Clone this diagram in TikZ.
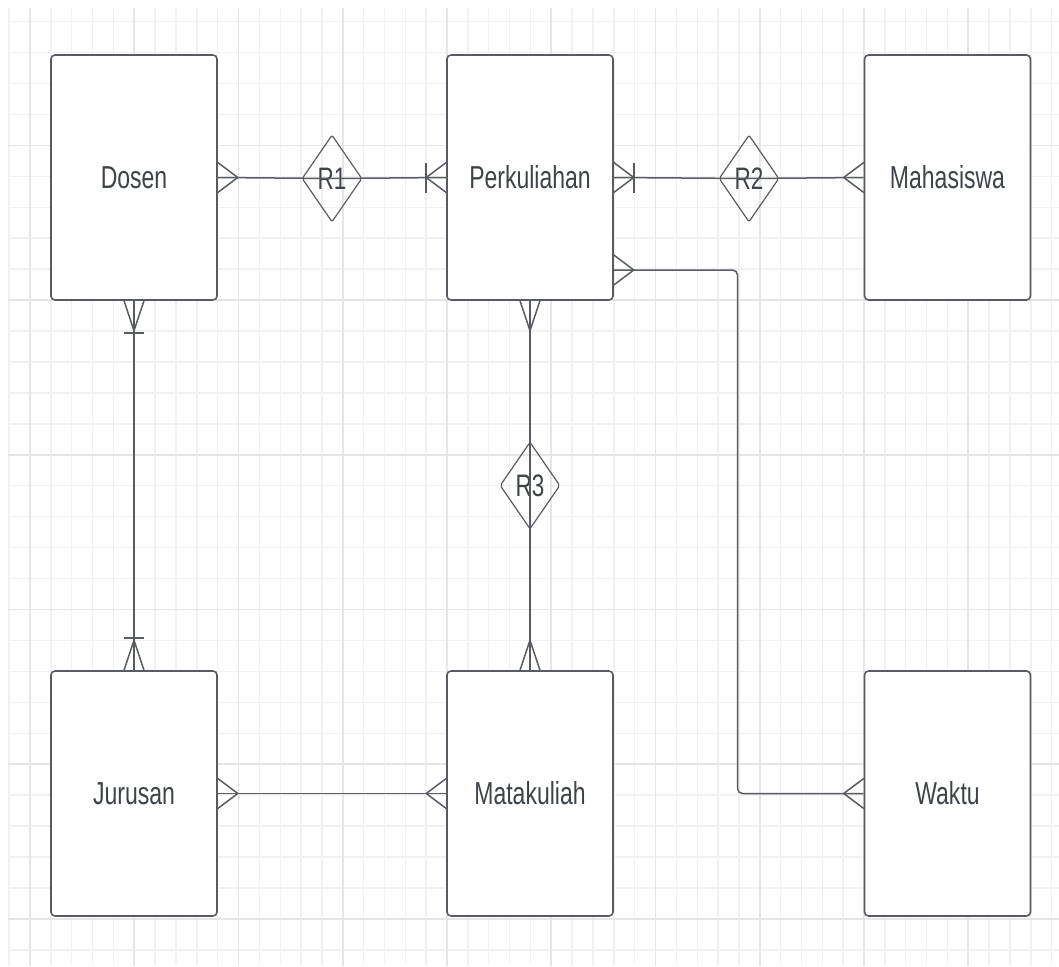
\documentclass[tikz,border=0pt]{standalone}
\usepackage{fontspec}
\setmainfont{Liberation Sans}
\usepackage{graphicx}
\usepackage{tikz}
\usetikzlibrary{shapes.geometric, calc}

\definecolor{cGaris}{RGB}{88,92,98}
\definecolor{cTeks}{RGB}{62,67,74}
\definecolor{cKisi}{RGB}{241,241,241}
\definecolor{cKisiMayor}{RGB}{229,229,229}

% teks yang agak memanjang ke atas
\newcommand{\tinggi}[1]{\scalebox{1}[1.38]{#1}}
% kaki gagak: titik, arah, lebar
\newcommand{\kaki}[3]{\draw[garisrel] ($(#1)+(#3)$) -- ($(#1)+(#2)$) -- ($(#1)-(#3)$);}
% palang tunggal
\newcommand{\palang}[3]{\draw[garisrel] ($(#1)+(#2)+(#3)$) -- ($(#1)+(#2)-(#3)$);}

\begin{document}
\begin{tikzpicture}[x=1pt, y=-1pt,
    entitas/.style={rectangle, draw=cGaris, fill=white, line width=1.6pt, rounded corners=4pt,
        minimum width=166pt, minimum height=245pt, text=cTeks, font=\fontsize{23}{27}\selectfont},
    relasi/.style={diamond, draw=cGaris, line width=1.2pt, rounded corners=2pt, aspect=0.69,
        minimum width=60pt, minimum height=87pt, inner sep=0pt, text=cTeks, font=\fontsize{22.5}{27}\selectfont},
    garisrel/.style={draw=cGaris, line width=1.5pt},
    kisi/.style={draw=cKisi, line width=1.4pt},
    kisimayor/.style={draw=cKisiMayor, line width=1.6pt}]

    \useasboundingbox[fill=white] (0,0) rectangle (1059,966);

    % Kisi latar
    \foreach \i in {0,...,50} \draw[kisi] ({9.15+20.85*\i},8) -- ({9.15+20.85*\i},966);
    \foreach \j in {0,...,30} \draw[kisi] (8,{21.6+30.94*\j}) -- (1059,{21.6+30.94*\j});
    \foreach \i in {1,6,...,46} \draw[kisimayor] ({9.15+20.85*\i},8) -- ({9.15+20.85*\i},966);
    \foreach \j in {4,9,...,29} \draw[kisimayor] (8,{21.6+30.94*\j}) -- (1059,{21.6+30.94*\j});

    % Entitas
    \node[entitas] (dosen) at (134,177.5) {\tinggi{Dosen}};
    \node[entitas] (kuliah) at (530,177.5) {\tinggi{Perkuliahan}};
    \node[entitas] (mhs) at (947.5,177.5) {\tinggi{Mahasiswa}};
    \node[entitas] (jurusan) at (134,793.5) {\tinggi{Jurusan}};
    \node[entitas] (matkul) at (530,793.5) {\tinggi{Matakuliah}};
    \node[entitas] (waktu) at (947.5,793.5) {\tinggi{Waktu}};

    % Relasi
    \node[relasi] (r1) at (332,178.5) {\tinggi{R1}};
    \node[relasi] (r2) at (749,178.5) {\tinggi{R2}};
    \node[relasi] (r3) at (530,485.5) {\tinggi{R3}};

    % Garis penghubung
    \coordinate (belok) at (737.5,270);
    \coordinate (kw) at (kuliah.east |- belok);
    \draw[garisrel] (dosen.east) -- (r1.center) -- (kuliah.west);
    \draw[garisrel] (kuliah.east) -- (r2.center) -- (mhs.west);
    \draw[garisrel, rounded corners=5pt] (kw) -- (belok) |- (waktu.west);
    \draw[garisrel] (dosen.south) -- (jurusan.north);
    \draw[garisrel] (kuliah.south) -- (r3.center) -- (matkul.north);
    \draw[garisrel] (jurusan.east) -- (matkul.west);

    % Kardinalitas
    \kaki{dosen.east}{20,0}{0,15}
    \kaki{kuliah.west}{-20,0}{0,15}
    \palang{kuliah.west}{-20,0}{0,15}
    \kaki{kuliah.east}{20,0}{0,15}
    \palang{kuliah.east}{20,0}{0,15}
    \kaki{mhs.west}{-20,0}{0,15}
    \kaki{kw}{20,0}{0,15}
    \kaki{waktu.west}{-20,0}{0,15}
    \kaki{dosen.south}{0,30}{10,0}
    \palang{dosen.south}{0,32}{10,0}
    \kaki{jurusan.north}{0,-30}{10,0}
    \palang{jurusan.north}{0,-32}{10,0}
    \kaki{kuliah.south}{0,30}{10,0}
    \kaki{matkul.north}{0,-30}{10,0}
    \kaki{jurusan.east}{20,0}{0,15}
    \kaki{matkul.west}{-20,0}{0,15}
\end{tikzpicture}
\end{document}
